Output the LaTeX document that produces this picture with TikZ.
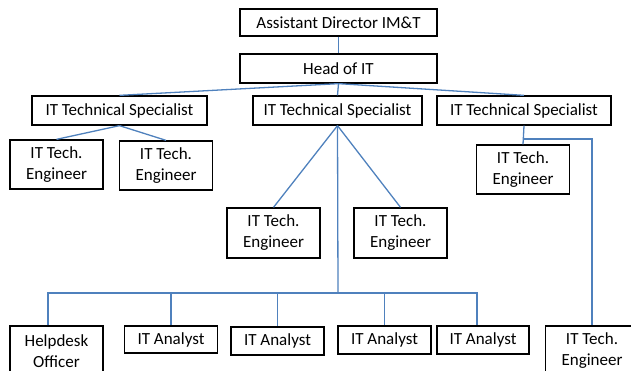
\documentclass[tikz,border=0pt]{standalone}
\usepackage{fontspec}
\setmainfont{Carlito}
\usepackage{xcolor}
\usepackage{tikz}
\definecolor{linkblue}{RGB}{79,129,189}

\begin{document}
\begin{tikzpicture}[x=1pt,y=-1pt,
    post/.style={draw=black,line width=1.3pt,fill=white,inner sep=0pt,align=center,
      font=\fontsize{17}{21}\selectfont,minimum width=93pt,minimum height=28pt},
    wide/.style={post,minimum width=#1},
    twoline/.style={post,minimum height=50pt},
    link/.style={draw=linkblue,line width=1.3pt}]
  \useasboundingbox (0,0) rectangle (631,371);
  % top of the tree
  \node[wide=197pt,minimum height=27pt] (ad) at (338.5,22.5) {Assistant Director IM\&T};
  \node[wide=197pt,minimum height=29pt] (head) at (338.5,68.5) {Head of IT};
  \node[wide=175pt,minimum height=29pt] (spec1) at (119.5,110.5) {IT Technical Specialist};
  \node[wide=169pt,minimum height=29pt] (spec2) at (337.5,110.5) {IT Technical Specialist};
  \node[wide=174pt,minimum height=29pt] (spec3) at (524,110.5) {IT Technical Specialist};
  % engineers
  \node[twoline,minimum height=49pt] (eng1) at (56.5,164.5) {IT Tech.\\Engineer};
  \node[twoline,minimum height=49pt] (eng2) at (166,165.5) {IT Tech.\\Engineer};
  \node[twoline,minimum height=49pt] (eng3) at (523,169.5) {IT Tech.\\Engineer};
  \node[twoline] (eng4) at (273.5,233) {IT Tech.\\Engineer};
  \node[twoline] (eng5) at (400.5,233) {IT Tech.\\Engineer};
  \node[twoline] (eng6) at (592,351) {IT Tech.\\Engineer};
  % bottom row
  \node[twoline] (help) at (56.5,351) {Helpdesk\\Officer};
  \node[post,minimum height=27pt] (ana1) at (171,339.5) {IT Analyst};
  \node[post] (ana2) at (277.5,341) {IT Analyst};
  \node[post] (ana3) at (384.5,340) {IT Analyst};
  \node[post,minimum width=92pt] (ana4) at (483,340) {IT Analyst};
  \coordinate (bus) at (338,293);
  \coordinate (busL) at (48,293);
  \coordinate (busR) at (477,293);
  \coordinate (fork) at (524,139);
  \coordinate (forkR) at (592,139);

  \path[link]
    (ad) edge (head)
    (head.south) edge (spec1.north)
    (head.south) edge (spec2.north)
    (head.south) edge (spec3.north)
    (spec1.south) edge (eng1.north)
    (spec1.south) edge (eng2.north)
    (spec2.south) edge (eng4.north)
    (spec2.south) edge (eng5.north)
    (spec2.south) edge (bus)
    (spec3.south) edge (eng3.north);
  \draw[link] (busL |- help.north) -- (busL) -- (busR) -- (busR |- ana4.north);
  \draw[link] (ana1.north |- bus) -- (ana1.north);
  \draw[link] (ana2.north |- bus) -- (ana2.north);
  \draw[link] (ana3.north |- bus) -- (ana3.north);
  \draw[link] (fork) -- (forkR) -- (eng6.north);
\end{tikzpicture}
\end{document}
